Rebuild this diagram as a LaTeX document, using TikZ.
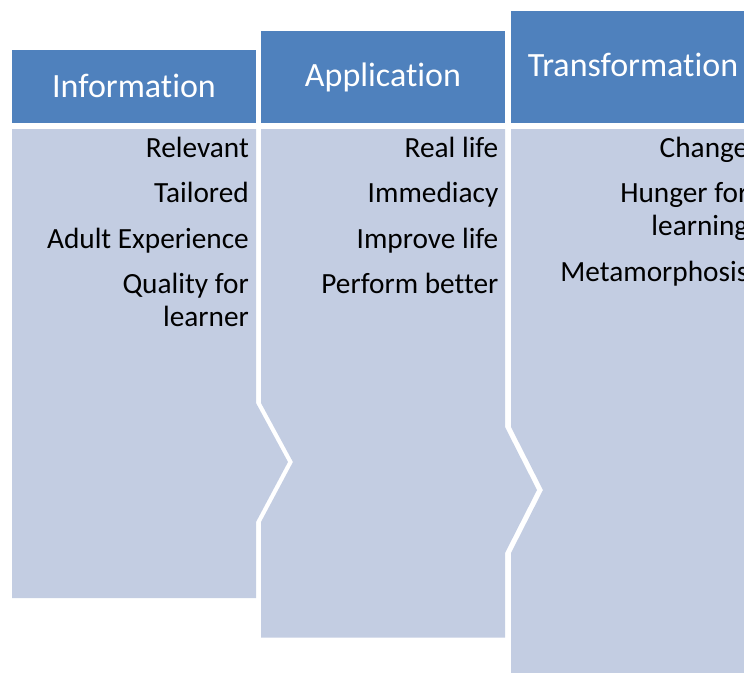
\documentclass[tikz,border=0pt]{standalone}
\usepackage{fontspec}
\setmainfont[Ligatures=NoCommon]{Carlito}
\definecolor{hdrblue}{RGB}{79,129,189}
\definecolor{bodyblue}{RGB}{195,205,226}
\tikzset{
  hdrbox/.style={fill=hdrblue, draw=none},
  bodyshape/.style={fill=bodyblue, draw=none},
  hdrtext/.style={text=white, inner sep=0pt, anchor=base, font=\fontsize{34}{40}\selectfont},
  itemtext/.style={text=black, inner sep=0pt, anchor=base east, align=right, font=\fontsize{29.3}{33}\selectfont}
}
\begin{document}
\begin{tikzpicture}[x=1pt,y=-1pt]
\useasboundingbox (0,0) rectangle (744,672);
\clip (0,0) rectangle (744,672);
% headers
\fill[hdrbox] (12,50) rectangle (256,123);
\fill[hdrbox] (261,30.5) rectangle (505,123);
\fill[hdrbox] (511,11) rectangle (755,123);
% bodies
\fill[bodyshape] (12,129) -- (256,129) -- (256,403) -- (288,462) -- (256,522) -- (256,598) -- (12,598) -- cycle;
\fill[bodyshape] (261,129) -- (505,129) -- (505,427) -- (537,490) -- (505,553) -- (505,637.5) -- (261,637.5) -- (261,522) -- (293,462) -- (261,403) -- cycle;
\fill[bodyshape] (511,129) -- (760,129) -- (760,680) -- (511,680) -- (511,553) -- (543,490) -- (511,427) -- cycle;
% header texts
\node[hdrtext] (h1) at (134,97) {Information};
\node[hdrtext] (h2) at (383,86.5) {Application};
\node[hdrtext] (h3) at (633,76.5) {Transformation};
% column 1 items
\node[itemtext] (a1) at (249,157.3) {Relevant};
\node[itemtext] (a2) at (249,202.7) {Tailored};
\node[itemtext] (a3) at (249,248.2) {Adult Experience};
\node[itemtext] (a4) at (249,326.6) {Quality for\\learner};
% column 2 items
\node[itemtext] (b1) at (498.5,157.3) {Real life};
\node[itemtext] (b2) at (498.5,202.7) {Immediacy};
\node[itemtext] (b3) at (498.5,248.2) {Improve life};
\node[itemtext] (b4) at (498.5,293.6) {Perform better};
% column 3 items
\node[itemtext] (c1) at (748.5,157.3) {Change};
\node[itemtext] (c2) at (748.5,235.7) {Hunger for\\learning};
\node[itemtext] (c3) at (748.5,281) {Metamorphosis};
\end{tikzpicture}
\end{document}
